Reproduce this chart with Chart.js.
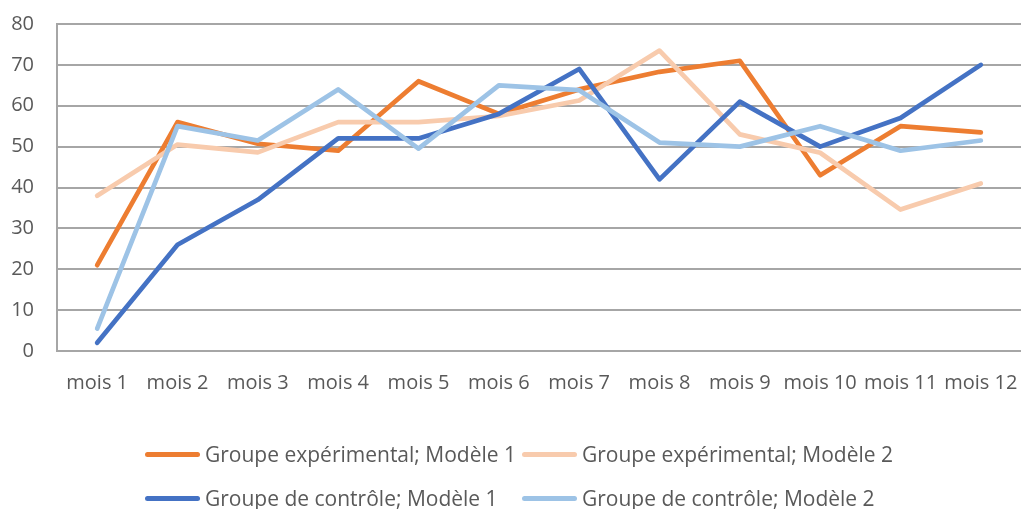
<!DOCTYPE html>
<html>
<head>
<meta charset="utf-8">
<script src="https://cdn.jsdelivr.net/npm/chart.js@4.4.1/dist/chart.umd.min.js"></script>
<style>
  html, body { margin: 0; padding: 0; background: #fff; }
  #wrap { position: relative; width: 1021px; height: 509px; }
  #legend { position: absolute; left: 145px; top: 436px; display: grid;
    grid-template-columns: 377px 400px; row-gap: 8px;
    font-family: "Open Sans", sans-serif; font-size: 21px; color: #595959; }
  .item { display: flex; align-items: center; height: 36px; white-space: nowrap; }
  .swatch { width: 55px; height: 5px; border-radius: 3px; margin-right: 5px; flex: none; }
</style>
</head>
<body>
<div id="wrap">
  <canvas id="myChart" width="1021" height="509"></canvas>
  <div id="legend"></div>
</div>
<script>
const months = ["mois 1", "mois 2", "mois 3", "mois 4", "mois 5", "mois 6", "mois 7", "mois 8", "mois 9", "mois 10", "mois 11", "mois 12"];
const seriesNames = ["Groupe expérimental; Modèle 1", "Groupe expérimental; Modèle 2", "Groupe de contrôle; Modèle 1", "Groupe de contrôle; Modèle 2"];
const expM1 = [21, 56, 50.7, 49, 66, 58, 64, 68.3, 71, 43, 55, 53.5];
const expM2 = [38, 50.5, 48.6, 56, 56, 57.5, 61.3, 73.5, 53, 48.5, 34.6, 41];
const ctrlM1 = [2, 26, 37, 52, 52, 58, 69, 42, 61, 50, 57, 70];
const ctrlM2 = [5.5, 55, 51.5, 64, 49.5, 65, 63.8, 51, 50, 55, 49, 51.5];
const yTicks = [0, 10, 20, 30, 40, 50, 60, 70, 80];
const colors = ["#ED7D31", "#F8CBAD", "#4472C4", "#9DC3E6"];

const allSeries = [expM1, expM2, ctrlM1, ctrlM2];
const fontFamily = "'Open Sans', sans-serif";

const datasets = allSeries.map((vals, i) => ({
    label: seriesNames[i],
    data: vals,
    borderColor: colors[i],
    backgroundColor: colors[i],
    borderWidth: 4.7,
    borderCapStyle: "round",
    borderJoinStyle: "round",
    pointRadius: 0,
    tension: 0,
    fill: false,
    order: allSeries.length - i  // last series on top, like Excel
}));

new Chart("myChart", {
    type: "line",
    data: { labels: months, datasets: datasets },
    options: {
        responsive: false,
        animation: false,
        layout: { padding: { top: 24, left: 0, right: 0, bottom: 0 } },
        plugins: {
            legend: { display: false },
            tooltip: { enabled: false }
        },
        scales: {
            x: {
                offset: true,
                grid: { display: false, drawTicks: false },
                border: { display: true, color: "#a6a6a6", width: 2 },
                ticks: { color: "#595959", font: { family: fontFamily, size: 20 }, padding: 20, maxRotation: 0, autoSkip: false },
                afterFit: scale => {
                    scale.height = 158;
                    scale.paddingLeft = 0;
                    scale.paddingRight = 0;
                }
            },
            y: {
                min: 0,
                max: 80,
                afterBuildTicks: scale => { scale.ticks = yTicks.map(v => ({ value: v })); },
                grid: { color: "#a6a6a6", lineWidth: 2, drawTicks: false },
                border: { display: true, color: "#a6a6a6", width: 2 },
                ticks: { color: "#595959", font: { family: fontFamily, size: 20 }, padding: 23 },
                afterFit: scale => {
                    scale.width = 57;
                    scale.paddingTop = 0;
                    scale.paddingBottom = 0;
                }
            }
        }
    }
});

// legend laid out in two columns like the original
const legend = document.getElementById("legend");
seriesNames.forEach((name, i) => {
    const item = document.createElement("div");
    item.className = "item";
    const sw = document.createElement("span");
    sw.className = "swatch";
    sw.style.background = colors[i];
    const txt = document.createElement("span");
    txt.textContent = name;
    item.appendChild(sw);
    item.appendChild(txt);
    legend.appendChild(item);
});
</script>
</body>
</html>
